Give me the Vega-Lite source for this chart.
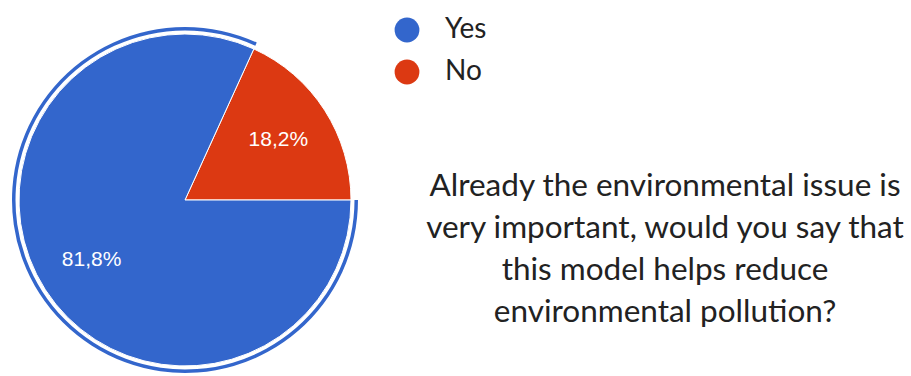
{
  "$schema": "https://vega.github.io/schema/vega-lite/v6.json",
  "width": 370,
  "height": 346,
  "autosize": {"type": "none"},
  "padding": {"left": 0, "top": 27, "right": 541, "bottom": 3},
  "background": "white",
  "title": {
    "text": ["Already the environmental issue is", "very important, would you say that", "this model helps reduce", "environmental pollution?"],
    "orient": "top",
    "anchor": "start",
    "frame": "group",
    "align": "center",
    "baseline": "alphabetic",
    "dx": 665,
    "dy": 341,
    "font": "Lato",
    "fontSize": 31.5,
    "fontWeight": "normal",
    "lineHeight": 42,
    "color": "#222222"
  },
  "data": {
    "values": [
      {"answer": "No", "value": 18.2, "label": "18,2%", "ord": 1},
      {"answer": "Yes", "value": 81.8, "label": "81,8%", "ord": 2}
    ]
  },
  "encoding": {
    "theta": {"field": "value", "type": "quantitative", "stack": true, "scale": {"range": [0.4276, 6.7108]}},
    "order": {"field": "ord", "type": "quantitative"}
  },
  "layer": [
    {
      "mark": {"type": "arc", "radius": 166, "stroke": "white", "strokeWidth": 1},
      "encoding": {
        "color": {
          "field": "answer",
          "type": "nominal",
          "scale": {"domain": ["Yes", "No"], "range": ["#3366CC", "#DC3912"]},
          "legend": {
            "title": null,
            "orient": "none",
            "legendX": 393,
            "legendY": -11,
            "symbolType": "circle",
            "symbolSize": 615,
            "symbolStrokeWidth": 0,
            "labelFont": "Lato",
            "labelFontSize": 28,
            "labelColor": "#222222",
            "labelOffset": 24,
            "rowPadding": 14
          }
        }
      }
    },
    {
      "mark": {"type": "arc", "radius": 173, "radius2": 169.5, "color": "#3366CC"},
      "encoding": {
        "opacity": {"condition": {"test": "datum.answer === 'No'", "value": 0}, "value": 1}
      }
    },
    {
      "mark": {"type": "text", "radius": 111, "font": "Liberation Sans", "fontSize": 21, "color": "white", "align": "center", "baseline": "middle"},
      "encoding": {
        "text": {"field": "label", "type": "nominal"}
      }
    }
  ]
}
